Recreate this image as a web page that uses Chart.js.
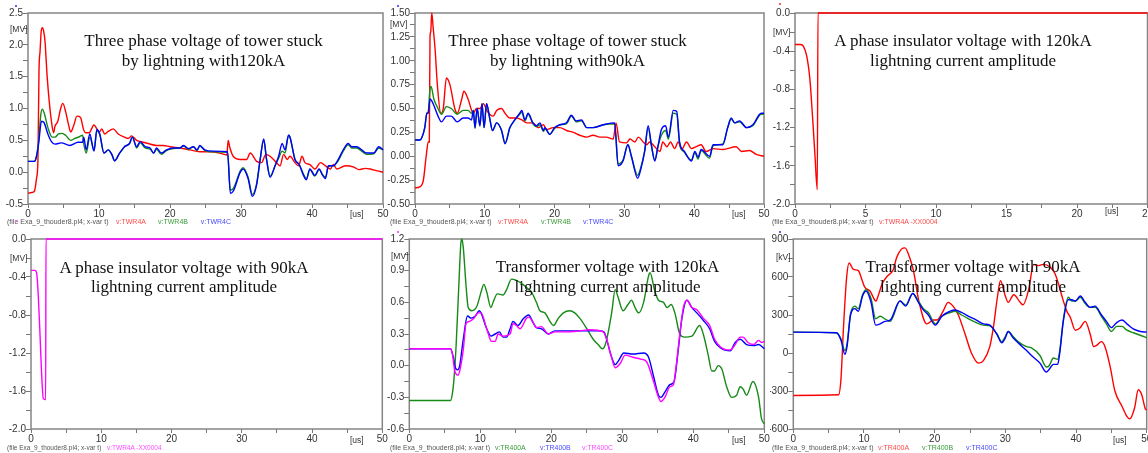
<!DOCTYPE html>
<html><head><meta charset="utf-8">
<script src="https://cdn.jsdelivr.net/npm/chart.js@4.4.1/dist/chart.umd.min.js"></script>
<style>
html,body{margin:0;padding:0;background:#fff;width:1148px;height:453px;overflow:hidden;position:relative;font-family:"Liberation Sans",Arial,sans-serif;}
canvas{position:absolute;}
.title{position:absolute;width:400px;text-align:center;font-family:"Liberation Serif","Times New Roman",serif;font-size:17px;line-height:19.5px;color:#111;white-space:nowrap;z-index:2;}
.unit{position:absolute;font-size:8.5px;line-height:10px;color:#333;white-space:nowrap;}
.foot{position:absolute;font-size:7px;line-height:9px;color:#555;white-space:nowrap;}
.dot{position:absolute;width:2px;height:2px;}
</style></head><body>
<script>
// ---------------- DATA ----------------
// x: time [us]; y: voltage
const xTicks50 = [0, 10, 20, 30, 40, 50];
const xTicks25 = [0, 5, 10, 15, 20, 25];

// Panel 1: tower struck, 120 kA [MV]
const twr120A = [[0,-0.33],[0.5,-0.32],[0.9,-0.3],[1.2,-0.1],[1.4,0.2],[1.55,1.6],[1.7,1.9],[1.85,2.2],[2.0,2.27],[2.2,2.22],[2.4,2.05],[2.7,1.5],[3.0,1.1],[3.3,0.8],[3.6,0.62],[3.8,0.72],[4.2,0.8],[4.6,1.0],[4.9,1.08],[5.3,0.95],[5.7,0.75],[6.0,0.63],[6.4,0.72],[6.9,0.88],[7.4,0.86],[7.8,0.68],[8.1,0.62],[8.6,0.62],[9.3,0.74],[9.7,0.68],[10.0,0.62],[10.4,0.68],[10.8,0.6],[11.3,0.64],[12.0,0.68],[12.7,0.6],[13.6,0.55],[14.1,0.53],[14.6,0.57],[15.3,0.5],[16.2,0.47],[16.9,0.45],[18.1,0.42],[19.05,0.42],[20.0,0.4],[21.4,0.38],[22.8,0.35],[24.2,0.32],[25.6,0.32],[27.0,0.3],[28.0,0.27],[28.2,0.5],[28.4,0.4],[28.9,0.25],[29.9,0.2],[30.8,0.2],[31.3,0.3],[32.2,0.17],[32.9,0.15],[33.5,0.28],[34.1,0.25],[35.0,0.15],[35.5,0.1],[36.0,0.28],[36.5,0.2],[36.9,0.25],[37.6,0.15],[38.1,0.1],[38.6,0.25],[39.0,0.15],[39.7,0.12],[40.4,0.05],[41.2,0.15],[41.9,0.1],[42.6,0.05],[43.0,0.12],[43.5,0.05],[44.7,0.1],[45.9,0.08],[46.6,0.04],[47.5,0.06],[48.2,0.05],[49.2,0.02],[50,0.0]];
const twr120B = [[0,0.17],[0.9,0.17],[1.2,0.25],[1.5,0.5],[1.8,0.9],[2.0,0.99],[2.3,0.92],[2.8,0.7],[3.4,0.55],[3.8,0.55],[4.3,0.6],[4.8,0.61],[5.3,0.58],[6.0,0.5],[6.6,0.53],[7.3,0.56],[7.7,0.58],[7.85,0.45],[8.2,0.3],[8.7,0.55],[9.3,0.35],[9.7,0.65],[10.1,0.6],[10.7,0.3],[11.3,0.35],[11.8,0.28],[12.2,0.18],[12.9,0.3],[13.6,0.4],[14.3,0.45],[14.7,0.55],[15.3,0.38],[15.8,0.46],[16.5,0.38],[17.2,0.36],[17.7,0.3],[18.1,0.36],[18.8,0.28],[19.5,0.34],[20.5,0.37],[21.4,0.38],[21.9,0.41],[22.6,0.36],[23.3,0.4],[23.8,0.34],[24.2,0.41],[24.9,0.34],[26.1,0.32],[28.1,0.31],[28.5,-0.28],[28.9,-0.26],[29.9,0.02],[30.3,0.07],[31.0,-0.08],[31.6,-0.35],[32.2,-0.18],[32.7,0.2],[33.2,0.5],[33.6,0.2],[34.1,-0.06],[34.8,0.1],[35.3,0.22],[35.8,0.33],[36.2,0.3],[36.7,0.58],[36.9,0.55],[37.6,0.2],[38.2,0.12],[38.8,-0.03],[39.2,-0.1],[39.7,0.04],[40.4,-0.06],[41.0,0.04],[41.5,-0.04],[41.9,-0.08],[42.3,0.09],[43.0,0.1],[43.7,0.18],[44.4,0.33],[45.1,0.43],[45.6,0.38],[46.3,0.38],[47.0,0.33],[47.7,0.28],[48.7,0.29],[49.4,0.38],[50,0.35]];
const twr120C = [[0,0.17],[0.9,0.17],[1.2,0.25],[1.5,0.45],[1.9,0.8],[2.25,0.78],[2.8,0.6],[3.3,0.48],[3.8,0.44],[4.7,0.46],[5.9,0.42],[7.05,0.47],[7.7,0.47],[7.85,0.55],[8.2,0.35],[8.7,0.6],[9.3,0.33],[9.7,0.67],[10.1,0.6],[10.7,0.3],[11.3,0.35],[11.8,0.28],[12.2,0.18],[12.9,0.3],[13.6,0.4],[14.3,0.45],[14.7,0.55],[15.3,0.4],[15.8,0.48],[16.5,0.4],[17.2,0.38],[17.7,0.3],[18.1,0.38],[18.8,0.3],[19.5,0.35],[20.5,0.38],[21.4,0.38],[21.9,0.42],[22.6,0.37],[23.3,0.4],[23.8,0.35],[24.2,0.42],[24.9,0.35],[26.1,0.33],[28.1,0.32],[28.5,-0.33],[28.9,-0.3],[29.9,0.0],[30.3,0.05],[31.0,-0.1],[31.6,-0.38],[32.2,-0.2],[32.7,0.2],[33.2,0.52],[33.6,0.2],[34.1,-0.08],[34.8,0.1],[35.3,0.25],[35.8,0.45],[36.2,0.35],[36.7,0.58],[36.9,0.55],[37.6,0.2],[38.2,0.12],[38.8,-0.05],[39.2,-0.12],[39.7,0.05],[40.4,-0.05],[41.0,0.05],[41.5,-0.05],[41.9,-0.1],[42.3,0.1],[43.0,0.1],[43.7,0.2],[44.4,0.35],[45.1,0.45],[45.6,0.4],[46.3,0.4],[47.0,0.35],[47.7,0.3],[48.7,0.3],[49.4,0.4],[50,0.35]];

// Panel 2: tower struck, 90 kA [MV]
const twr90A = [[0,-0.33],[0.7,-0.32],[1.2,-0.25],[1.6,0.0],[1.9,0.15],[2.05,0.15],[2.15,1.25],[2.25,1.3],[2.4,1.5],[2.6,1.35],[2.9,1.1],[3.2,0.75],[3.7,0.45],[4.05,0.5],[4.5,0.82],[5.0,0.75],[5.7,0.5],[6.05,0.45],[6.7,0.6],[7.0,0.68],[7.6,0.6],[8.35,0.45],[8.8,0.5],[9.3,0.5],[9.8,0.55],[10.35,0.47],[11.2,0.42],[11.7,0.48],[12.4,0.5],[12.9,0.45],[13.6,0.4],[14.55,0.4],[15.3,0.38],[16.0,0.35],[16.9,0.35],[17.65,0.3],[18.4,0.33],[18.85,0.28],[19.8,0.3],[20.75,0.3],[21.7,0.27],[22.7,0.25],[23.6,0.22],[24.6,0.2],[25.5,0.22],[26.5,0.2],[27.4,0.2],[28.4,0.18],[28.8,0.35],[29.3,0.15],[30.3,0.14],[30.8,0.18],[31.5,0.15],[32.0,0.2],[32.7,0.15],[33.2,0.12],[33.6,0.15],[34.35,0.1],[35.1,0.05],[35.5,0.15],[36.1,0.1],[36.6,0.15],[37.2,0.08],[37.7,0.15],[38.2,0.07],[38.9,0.15],[39.6,0.08],[40.3,0.1],[41.0,0.12],[41.7,0.05],[42.7,0.08],[44.1,0.07],[46.0,0.1],[46.8,0.05],[47.9,0.06],[48.9,0.02],[50,0.0]];
const twr90B = [[0,0.17],[0.7,0.17],[1.0,0.2],[1.4,0.3],[1.7,0.45],[1.9,0.47],[2.15,0.7],[2.3,0.73],[2.7,0.6],[3.3,0.5],[3.8,0.44],[4.5,0.52],[5.2,0.5],[6.05,0.44],[6.9,0.48],[7.6,0.48],[8.1,0.45],[8.35,0.48],[8.6,0.29],[8.9,0.5],[9.3,0.32],[9.6,0.55],[9.9,0.3],[10.25,0.55],[10.7,0.4],[11.1,0.27],[11.7,0.35],[12.4,0.27],[12.9,0.14],[13.6,0.3],[14.3,0.38],[15.0,0.44],[15.3,0.46],[15.75,0.37],[16.2,0.44],[16.9,0.34],[17.4,0.31],[17.9,0.33],[18.4,0.26],[18.6,0.29],[19.3,0.23],[20.0,0.29],[20.75,0.33],[21.7,0.34],[22.4,0.42],[23.1,0.36],[23.85,0.37],[24.6,0.3],[25.5,0.3],[27.0,0.33],[28.6,0.34],[29.1,-0.08],[29.8,-0.04],[30.5,0.12],[31.0,0.0],[31.9,-0.2],[32.3,-0.13],[32.9,0.05],[33.4,0.3],[33.9,0.1],[34.35,-0.04],[34.8,0.1],[35.3,0.22],[35.9,0.27],[36.3,0.18],[37.0,0.45],[37.5,0.44],[37.9,0.14],[38.6,0.04],[39.6,-0.04],[40.1,0.04],[40.55,-0.03],[41.0,0.06],[42.2,-0.02],[42.7,0.11],[44.1,0.13],[44.8,0.3],[45.3,0.39],[45.8,0.35],[46.5,0.36],[47.5,0.3],[48.4,0.32],[49.6,0.44],[50,0.44]];
const twr90C = [[0,0.17],[0.7,0.17],[1.0,0.2],[1.4,0.3],[1.7,0.45],[1.9,0.45],[2.15,0.6],[2.6,0.55],[3.3,0.42],[3.8,0.36],[4.5,0.42],[5.2,0.42],[6.05,0.36],[6.9,0.4],[7.6,0.4],[8.1,0.38],[8.35,0.48],[8.6,0.3],[8.9,0.5],[9.3,0.32],[9.6,0.55],[9.9,0.3],[10.25,0.55],[10.7,0.4],[11.1,0.27],[11.7,0.35],[12.4,0.27],[12.9,0.13],[13.6,0.3],[14.3,0.38],[15.0,0.45],[15.3,0.48],[15.75,0.38],[16.2,0.45],[16.9,0.35],[17.4,0.32],[17.9,0.35],[18.4,0.27],[18.6,0.3],[19.3,0.23],[20.0,0.3],[20.75,0.33],[21.7,0.35],[22.4,0.43],[23.1,0.37],[23.85,0.38],[24.6,0.3],[25.5,0.3],[27.0,0.33],[28.6,0.35],[29.1,-0.1],[29.8,-0.05],[30.5,0.12],[31.0,0.0],[31.9,-0.23],[32.3,-0.15],[32.9,0.05],[33.4,0.32],[33.9,0.1],[34.35,-0.05],[34.8,0.1],[35.3,0.28],[35.9,0.32],[36.3,0.2],[37.0,0.48],[37.5,0.47],[37.9,0.15],[38.6,0.05],[39.6,-0.05],[40.1,0.05],[40.55,-0.01],[41.0,0.07],[42.2,0.0],[42.7,0.12],[44.1,0.12],[44.8,0.3],[45.3,0.4],[45.8,0.35],[46.5,0.37],[47.5,0.3],[48.4,0.33],[49.6,0.45],[50,0.45]];

// Panel 3: A phase insulator voltage, 120 kA [MV]
const ins120 = [[0,-0.33],[0.4,-0.33],[0.6,-0.35],[0.83,-0.45],[1.06,-0.7],[1.25,-1.1],[1.42,-1.5],[1.58,-1.85],[1.63,0],[25,0]];
// Panel 4: A phase insulator voltage, 90 kA [MV]
const ins90 = [[0,-0.33],[0.57,-0.33],[0.8,-0.36],[1.04,-0.6],[1.28,-1.0],[1.5,-1.4],[1.75,-1.68],[2.09,-1.69],[2.13,0],[50,0]];

// Panel 5: transformer voltage, 120 kA [MV]
const tr120A = [[0,-0.33],[5.8,-0.33],[6.1,-0.25],[6.3,-0.12],[6.6,0.2],[7.0,0.8],[7.25,1.15],[7.4,1.2],[7.6,1.12],[8.0,0.75],[8.3,0.55],[8.8,0.52],[9.5,0.56],[10.2,0.72],[10.5,0.77],[10.9,0.7],[11.5,0.55],[11.8,0.6],[12.4,0.68],[13.2,0.67],[13.7,0.72],[14.4,0.82],[15.0,0.81],[15.8,0.78],[16.5,0.74],[17.2,0.7],[17.9,0.6],[18.4,0.52],[19.1,0.5],[19.8,0.42],[20.3,0.38],[21.0,0.45],[21.7,0.5],[22.6,0.52],[23.3,0.5],[24.0,0.45],[25.0,0.35],[25.9,0.25],[26.6,0.2],[27.2,0.16],[27.7,0.22],[28.5,0.5],[29.0,0.72],[29.4,0.65],[30.1,0.52],[30.8,0.58],[31.3,0.62],[31.8,0.55],[32.3,0.5],[33.0,0.6],[33.7,0.85],[33.9,0.88],[34.6,0.7],[35.1,0.62],[35.8,0.6],[36.3,0.55],[36.9,0.58],[37.4,0.5],[38.1,0.3],[38.8,0.27],[39.8,0.28],[40.9,0.38],[41.4,0.3],[42.1,0.1],[42.6,-0.05],[43.0,-0.05],[43.5,0.0],[44.0,-0.03],[44.7,-0.2],[45.4,-0.3],[46.1,-0.28],[46.6,-0.2],[47.0,-0.22],[47.5,-0.28],[48.4,-0.15],[49.2,-0.3],[49.6,-0.5],[50,-0.55]];
const tr120B = [[0,0.16],[5.8,0.16],[6.2,0.08],[6.5,-0.02],[6.8,-0.04],[7.1,0.0],[7.6,0.25],[8.2,0.47],[8.7,0.45],[9.3,0.47],[9.85,0.52],[10.1,0.5],[10.9,0.35],[11.5,0.28],[12.1,0.3],[12.7,0.32],[13.2,0.27],[13.7,0.27],[14.2,0.35],[14.6,0.42],[15.3,0.38],[16.0,0.44],[16.8,0.48],[17.5,0.4],[17.9,0.36],[18.6,0.35],[19.6,0.3],[20.5,0.33],[24.0,0.33],[26.9,0.33],[27.4,0.32],[28.4,0.1],[29.0,0.01],[29.5,0.05],[30.2,0.12],[31.5,0.11],[33.0,0.12],[33.7,0.08],[34.4,-0.1],[35.1,-0.28],[35.45,-0.3],[36.0,-0.25],[36.7,-0.18],[37.3,-0.15],[37.8,0.1],[38.4,0.45],[39.1,0.62],[39.8,0.55],[40.5,0.5],[41.4,0.43],[42.3,0.35],[43.0,0.23],[43.8,0.17],[45.2,0.14],[45.9,0.22],[46.6,0.25],[47.5,0.2],[48.5,0.19],[49.2,0.2],[50,0.16]];
const tr120C = [[0,0.16],[5.8,0.16],[6.1,0.1],[6.4,-0.05],[6.9,-0.09],[7.1,-0.05],[7.6,0.15],[8.0,0.4],[8.5,0.42],[9.1,0.45],[9.7,0.5],[10.1,0.5],[10.9,0.35],[11.6,0.23],[12.1,0.23],[12.5,0.3],[13.2,0.28],[14.2,0.3],[14.6,0.4],[15.1,0.38],[15.6,0.35],[16.5,0.45],[16.85,0.46],[17.5,0.4],[17.9,0.36],[18.6,0.37],[19.6,0.3],[20.5,0.32],[22.2,0.32],[24.0,0.33],[25.4,0.34],[27.3,0.32],[27.8,0.25],[28.4,0.1],[29.0,-0.02],[29.7,0.02],[30.4,0.1],[31.5,0.08],[32.7,0.06],[33.4,0.04],[34.4,-0.15],[35.1,-0.3],[35.45,-0.34],[36.0,-0.3],[36.7,-0.2],[37.2,-0.18],[37.5,-0.05],[38.1,0.3],[38.6,0.55],[39.1,0.62],[39.8,0.55],[40.5,0.53],[41.4,0.45],[42.3,0.38],[43.0,0.25],[43.8,0.18],[44.7,0.15],[45.2,0.15],[45.9,0.2],[46.6,0.27],[47.0,0.27],[47.7,0.22],[48.5,0.2],[49.2,0.24],[49.6,0.22],[50,0.23]];

// Panel 6: transformer voltage, 90 kA [kV]
const tr90A = [[0,-335],[6.4,-330],[6.75,-200],[7.1,200],[7.55,600],[7.9,710],[8.5,660],[9.2,650],[9.7,580],[10.1,520],[10.85,490],[11.7,410],[12.0,450],[12.6,550],[13.2,600],[14.15,660],[14.6,750],[15.3,820],[15.8,830],[16.3,780],[17.0,650],[17.8,400],[18.9,230],[19.8,260],[20.3,260],[21.2,330],[21.9,400],[22.6,370],[23.35,300],[24.3,150],[25.2,0],[26.2,-80],[26.9,-60],[27.8,50],[28.3,200],[28.9,450],[29.3,570],[30.0,450],[30.4,400],[31.2,460],[32.1,400],[32.5,380],[33.3,500],[34.0,700],[34.7,690],[35.4,700],[36.3,680],[37.0,630],[37.5,550],[38.0,450],[38.7,330],[39.2,280],[39.9,180],[40.6,200],[41.3,250],[42.0,150],[42.5,50],[42.9,60],[43.6,90],[44.1,50],[44.8,-100],[45.5,-300],[46.5,-420],[47.2,-500],[47.6,-520],[48.3,-430],[48.8,-290],[49.3,-330],[49.8,-440],[50,-450]];
const tr90B = [[0,165],[6.1,160],[6.75,110],[7.3,20],[7.6,70],[8.1,310],[8.7,370],[9.2,350],[9.8,460],[10.3,500],[11.0,430],[11.65,270],[12.3,290],[12.95,270],[13.7,250],[15.1,410],[15.9,380],[16.9,470],[17.7,410],[18.4,350],[19.1,320],[20.1,230],[21.0,290],[22.2,320],[22.9,330],[23.8,300],[24.8,270],[25.9,240],[26.9,220],[27.8,215],[28.8,150],[29.5,90],[30.0,130],[30.4,170],[31.1,130],[31.8,90],[33.0,50],[33.7,40],[34.9,-20],[35.8,-110],[36.2,-100],[36.8,-40],[37.4,-50],[37.7,20],[38.2,260],[38.9,440],[39.4,410],[39.9,410],[40.6,440],[41.3,390],[42.0,360],[42.7,360],[43.6,290],[44.3,230],[45.0,170],[45.75,210],[46.5,210],[47.2,180],[48.1,160],[49.1,140],[50,120]];
const tr90C = [[0,165],[6.1,160],[6.75,100],[7.3,-10],[7.6,50],[8.1,300],[8.7,350],[9.2,330],[9.8,450],[10.3,490],[11.0,400],[11.65,220],[12.3,230],[12.95,250],[13.7,260],[15.1,410],[15.9,370],[16.9,470],[17.7,400],[18.4,340],[19.1,300],[20.1,220],[21.0,290],[22.2,330],[22.9,340],[23.8,320],[24.8,290],[25.9,260],[26.9,230],[27.8,220],[28.8,150],[29.5,80],[30.0,120],[30.4,170],[31.1,120],[31.8,80],[33.0,20],[33.7,-20],[34.9,-80],[35.8,-150],[36.2,-130],[36.8,-90],[37.4,-90],[37.7,0],[38.2,250],[38.9,420],[39.4,420],[39.9,410],[40.6,450],[41.3,400],[42.0,360],[42.7,370],[43.6,300],[44.3,250],[45.0,200],[45.75,240],[46.5,260],[47.2,230],[48.1,190],[49.1,170],[50,165]];

// y tick label sets
const yTicks1 = [-0.5, 0.0, 0.5, 1.0, 1.5, 2.0, 2.5];
const yTicks2 = [-0.5, -0.25, 0.0, 0.25, 0.5, 0.75, 1.0, 1.25, 1.5];
const yTicks3 = [-2.0, -1.6, -1.2, -0.8, -0.4, 0.0];
const yTicks5 = [-0.6, -0.3, 0.0, 0.3, 0.6, 0.9, 1.2];
const yTicks6 = [-600, -300, 0, 300, 600, 900];

// ---------------- STYLE / LAYOUT ----------------
const RED = '#ff0000', GREEN = '#168a16', BLUE = '#0000ff', MAG = '#ff00ff';

const panels = [
  {left:0, top:0, w:390, yW:28, padR:7, padT:13, xT:xTicks50, yT:yTicks1, dec:1,
   series:[[twr120A,RED],[twr120B,GREEN],[twr120C,BLUE]]},
  {left:386, top:0, w:384, yW:29, padR:6, padT:13, xT:xTicks50, yT:yTicks2, dec:2,
   series:[[twr90A,RED],[twr90B,GREEN],[twr90C,BLUE]]},
  {left:770, top:0, w:378, yW:25, padR:0.5, padT:13, xT:xTicks25, yT:yTicks3, dec:1,
   series:[[ins120,RED]]},
  {left:0, top:225, w:390, yW:31, padR:7.7, padT:14, xT:xTicks50, yT:yTicks3, dec:1,
   series:[[ins90,MAG]]},
  {left:386, top:225, w:384, yW:23.3, padR:5.7, padT:14, xT:xTicks50, yT:yTicks5, dec:1,
   series:[[tr120A,GREEN],[tr120B,BLUE],[tr120C,MAG]]},
  {left:770, top:225, w:378, yW:23.3, padR:1.3, padT:14, xT:xTicks50, yT:yTicks6, dec:0,
   series:[[tr90A,RED],[tr90B,GREEN],[tr90C,BLUE]]}
];
const CH = 220;

const frame = {
  id:'frame',
  beforeDatasetsDraw(chart){
    const a = chart.chartArea, c = chart.ctx;
    c.save(); c.strokeStyle = '#858585'; c.lineWidth = 1.5;
    c.strokeRect(a.left, a.top, a.right - a.left, a.bottom - a.top);
    c.restore();
  }
};

function axisTicks(vals){
  // major labelled ticks plus a minor tick half-way between them
  const step = (vals[1] - vals[0]) / 2;
  return {min: vals[0], max: vals[vals.length - 1], step};
}

panels.forEach((p, i) => {
  const cv = document.createElement('canvas');
  cv.width = p.w; cv.height = CH;
  cv.style.left = p.left + 'px'; cv.style.top = p.top + 'px';
  cv.style.width = p.w + 'px'; cv.style.height = CH + 'px';
  document.body.appendChild(cv);
  const xa = axisTicks(p.xT), ya = axisTicks(p.yT);
  new Chart(cv, {
    type: 'line',
    data: {
      datasets: p.series.map(([pts, col], k) => ({
        data: pts.map(([x, y]) => ({x, y})),
        borderColor: col, borderWidth: 1.4, pointRadius: 0,
        cubicInterpolationMode: 'monotone', fill: false, clip: 3,
        order: p.series.length - k
      }))
    },
    options: {
      responsive: false, animation: false, devicePixelRatio: 1,
      layout: {padding: {left: 0, right: p.padR, top: p.padT, bottom: 1}},
      plugins: {legend: {display: false}, tooltip: {enabled: false}},
      scales: {
        x: {
          type: 'linear', min: xa.min, max: xa.max,
          grid: {drawOnChartArea: false, drawTicks: true, tickLength: 4, color: '#777', lineWidth: 1},
          border: {display: false},
          ticks: {stepSize: xa.step, autoSkip: false, maxRotation: 0, padding: 0,
            color: '#333', font: {family: 'Liberation Sans', size: 10},
            callback: (v, idx) => idx % 2 === 0 ? Number(v).toFixed(0) : ''},
          afterFit(s){ s.height = 15; s.paddingLeft = 0; s.paddingRight = 0; }
        },
        y: {
          type: 'linear', min: ya.min, max: ya.max,
          grid: {drawOnChartArea: false, drawTicks: true, tickLength: 5, color: '#777', lineWidth: 1},
          border: {display: false},
          ticks: {stepSize: ya.step, autoSkip: false, padding: 0,
            color: '#333', font: {family: 'Liberation Sans', size: 10},
            callback: (v, idx) => idx % 2 === 0 ? Number(v).toFixed(p.dec) : ''},
          afterFit(s){ s.width = p.yW; s.paddingTop = 0; s.paddingBottom = 0; }
        }
      }
    },
    plugins: [frame]
  });
});

// ---------------- TEXT ----------------
function addText(cls, txt, left, top, color, extra){
  const d = document.createElement('div');
  d.className = cls; d.textContent = txt;
  d.style.left = left + 'px'; d.style.top = top + 'px';
  if (color) d.style.color = color;
  if (extra) Object.assign(d.style, extra);
  document.body.appendChild(d);
  return d;
}
function addTitle(lines, cx, top){
  const d = addText('title', '', cx - 200, top);
  d.innerHTML = lines.map(s => s.replace(/&/g,'&amp;')).join('<br>');
}
addTitle(['Three phase voltage of tower stuck', 'by lightning with120kA'], 203.5, 31);
addTitle(['Three phase voltage of tower stuck', 'by lightning with90kA'], 567.5, 31);
addTitle(['A phase insulator voltage with 120kA', 'lightning current amplitude'], 963, 31);
addTitle(['A phase insulator voltage with 90kA', 'lightning current amplitude'], 184, 257.5);
addTitle(['Transformer voltage with 120kA', 'lightning current amplitude'], 607.5, 257);
addTitle(['Transformer voltage with 90kA', 'lightning current amplitude'], 973, 257);

// units
[['[MV]',10,24],['[MV]',390,19],['[MV]',773,27],['[MV]',10,253],['[MV]',391,251],['[kV]',776,252],
 ['[us]',350,209],['[us]',732,209],['[us]',1105,206],['[us]',350,435],['[us]',732,435],['[us]',1113,435]]
 .forEach(([t,x,y]) => addText('unit', t, x, y));

// footers
const FILE = '(file Exa_9_thouder8.pl4; x-var t)';
const feet = [
  [7,217,7,[['v:TWR4A',116,'#ff4a4a'],['v:TWR4B',158,'#3c9c3c'],['v:TWR4C',200.7,'#4a4aff']]],
  [390,217,7,[['v:TWR4A',498,'#ff4a4a'],['v:TWR4B',541,'#3c9c3c'],['v:TWR4C',583,'#4a4aff']]],
  [772,217,7,[['v:TWR4A -XX0004',879,'#ff4a4a']]],
  [7,442.5,6.5,[['v:TWR4A -XX0004',107,'#ff4aff']]],
  [390,442.5,6.9,[['v:TR400A',495,'#3c9c3c'],['v:TR400B',540,'#4a4aff'],['v:TR400C',582,'#ff4aff']]],
  [772,442.5,7,[['v:TR400A',878,'#ff4a4a'],['v:TR400B',922,'#3c9c3c'],['v:TR400C',966,'#4a4aff']]]
];
feet.forEach(([x,y,fs,list]) => {
  addText('foot', FILE, x, y, null, {fontSize: fs + 'px'});
  list.forEach(([t,lx,c]) => addText('foot', t, lx, y, c, {fontSize: fs + 'px'}));
});

// small corner markers
[[15,5,'#6060ff'],[397,5,'#6060ff'],[779,3,'#ff6060'],[15,220,'#ff60ff'],[397,231,'#ff60ff'],[779,231,'#6060ff']]
 .forEach(([x,y,c]) => addText('dot', '', x, y, null, {background:c}));
</script>
</body></html>
